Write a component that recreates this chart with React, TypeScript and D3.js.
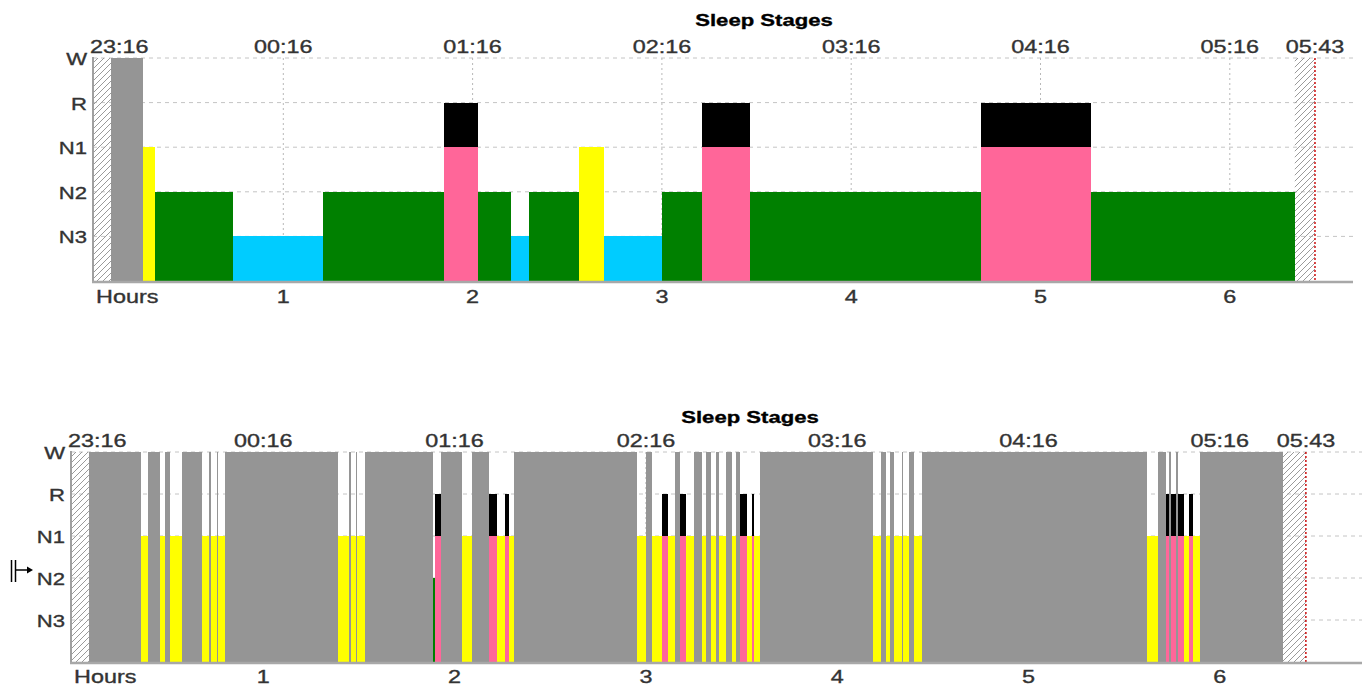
import React from 'react';
import * as d3 from 'd3';

// sleep stage hypnograms, times are minutes after 23:16
const stageNames = ['W', 'R', 'N1', 'N2', 'N3'];
const stageLevels: Record<string, number> = { W: 5, R: 4, N1: 3, N2: 2, N3: 1 };
const stageColors: Record<string, string> = {
  W: '#959595',
  R: '#ff6699',
  N1: '#ffff00',
  N2: '#008000',
  N3: '#00ccff',
};
const remTopColor = '#000000';

const timeLabels = ['23:16', '00:16', '01:16', '02:16', '03:16', '04:16', '05:16', '05:43'];
const timeLabelMinutes = [0, 60, 120, 180, 240, 300, 360, 387];
const hourLabels = ['1', '2', '3', '4', '5', '6'];
const hourMinutes = [60, 120, 180, 240, 300, 360];
const recordEnd = 387;

const topBounds = [5.4, 15.6, 19.4, 44.1, 72.7, 110.8, 121.6, 132.1, 137.8, 153.7,
  161.6, 180.0, 192.7, 208.0, 281.0, 315.9, 380.6];
const topStages = ['W', 'N1', 'N2', 'N3', 'N2', 'R', 'N2', 'N3', 'N2', 'N1',
  'N3', 'N2', 'R', 'N2', 'R', 'N2'];

const bottomBounds = [5.3, 21.6, 23.8, 27.6, 29.2, 30.7, 34.5, 40.8, 43.0, 43.6,
  45.5, 45.8, 48.0, 83.4, 86.9, 87.5, 89.1, 89.5, 91.9, 113.1,
  113.8, 115.7, 122.3, 125.4, 130.8, 133.3, 135.8, 137.0, 138.6, 177.2,
  180.0, 181.9, 185.0, 186.9, 189.1, 190.7, 192.6, 195.1, 197.6, 198.8,
  200.4, 202.0, 202.9, 205.1, 207.0, 208.2, 209.5, 211.7, 213.2, 213.9,
  215.8, 251.2, 253.7, 255.3, 256.5, 257.8, 260.3, 260.6, 262.5, 264.1,
  266.6, 337.1, 340.6, 343.1, 344.2, 344.8, 346.4, 346.8, 348.7, 350.3,
  351.5, 353.7, 379.8];
const bottomStages = ['W', 'N1', 'W', 'N1', 'W', 'N1', 'W', 'N1', 'W', 'N1',
  'W', 'N1', 'W', 'N1', 'W', 'N1', 'W', 'N1', 'W', 'N2',
  'R', 'W', 'N1', 'W', 'R', 'N1', 'R', 'N1', 'W', 'N1',
  'W', 'N1', 'R', 'N1', 'W', 'R', 'N1', 'W', 'N1', 'W',
  'N1', 'W', 'N1', 'W', 'N1', 'W', 'R', 'N1', 'R', 'N1',
  'W', 'N1', 'W', 'N1', 'W', 'N1', 'W', 'N1', 'W', 'N1',
  'W', 'N1', 'W', 'R', 'W', 'R', 'W', 'R', 'N1', 'R',
  'N1', 'W'];

const FONT = '"Liberation Sans", Arial, sans-serif';
const STRETCH = 1.3;

// text drawn a bit wider than the font, like the source picture
const T = ({ x, y, anchor = 'middle', size = 18, weight = 'normal', fill = '#333', children }: any) => (
  <text
    transform={`translate(${x},${y}) scale(${STRETCH},1)`}
    textAnchor={anchor}
    fontFamily={FONT}
    fontSize={size}
    fontWeight={weight}
    fill={fill}
    stroke={fill}
    strokeWidth={0.35}
  >
    {children}
  </text>
);

const Panel = ({ bounds, stages, x0, pxPerHour, axisEnd, yBase, yTop, titleX, titleY, timeY, hourY }: any) => {
  const xScale = d3.scaleLinear()
    .domain([0, recordEnd])
    .range([x0, x0 + pxPerHour * recordEnd / 60]);
  const yScale = d3.scaleLinear().domain([0, 5]).range([yBase, yTop]);
  const axisX = x0 - 1;
  const last = bounds[bounds.length - 1];

  return (
    <g>
      <T x={titleX} y={titleY} weight="bold" size={17} fill="#000">Sleep Stages</T>

      {/* grid */}
      {stageNames.map(s => (
        <line key={s} x1={axisX} x2={axisEnd} y1={yScale(stageLevels[s])} y2={yScale(stageLevels[s])}
          stroke="#c4c4c4" strokeDasharray="4,4" />
      ))}
      {hourMinutes.map(m => (
        <line key={m} x1={xScale(m)} x2={xScale(m)} y1={yTop} y2={yBase}
          stroke="#b8b8b8" strokeDasharray="2,3" />
      ))}

      {/* hatched unscored parts */}
      <rect x={xScale(0)} y={yTop} width={xScale(bounds[0]) - xScale(0)} height={yBase - yTop} fill="url(#hatch)" />
      <rect x={xScale(last)} y={yTop} width={xScale(recordEnd) - xScale(last)} height={yBase - yTop} fill="url(#hatch)" />

      {/* stages */}
      {stages.map((s: string, i: number) => {
        const x = xScale(bounds[i]);
        const w = xScale(bounds[i + 1]) - x;
        if (s === 'R') {
          return (
            <g key={i}>
              <rect x={x} width={w} y={yScale(3)} height={yBase - yScale(3)} fill={stageColors.R} shapeRendering="crispEdges" />
              <rect x={x} width={w} y={yScale(4)} height={yScale(3) - yScale(4)} fill={remTopColor} shapeRendering="crispEdges" />
            </g>
          );
        }
        const y = yScale(stageLevels[s]);
        return <rect key={i} x={x} width={w} y={y} height={yBase - y} fill={stageColors[s]} shapeRendering="crispEdges" />;
      })}

      <line x1={xScale(recordEnd)} x2={xScale(recordEnd)} y1={yTop} y2={yBase}
        stroke="#cc1111" strokeWidth={1.5} strokeDasharray="2,2" />

      {/* axes */}
      <line x1={axisX} x2={axisX} y1={yTop - 1} y2={yBase + 1} stroke="#a0a0a0" strokeWidth={2} />
      <line x1={axisX - 1} x2={axisEnd} y1={yBase + 1} y2={yBase + 1} stroke="#a8a8a8" strokeWidth={2.5} />

      {stageNames.map(s => (
        <T key={s} x={axisX - 6} y={yScale(stageLevels[s]) + 7} anchor="end" size={17}>{s}</T>
      ))}
      {timeLabels.map((t, i) => (
        <T key={t} x={i === 0 ? x0 - 4 : xScale(timeLabelMinutes[i])} y={timeY} anchor={i === 0 ? 'start' : 'middle'}>{t}</T>
      ))}
      <T x={x0 + 2} y={hourY} anchor="start">Hours</T>
      {hourLabels.map((h, i) => (
        <T key={h} x={xScale(hourMinutes[i])} y={hourY}>{h}</T>
      ))}
    </g>
  );
};

export default function App() {
  return (
    <svg width={1366} height={685} style={{ position: 'absolute', left: 0, top: 0, background: '#fff' }}>
      <defs>
        <pattern id="hatch" width={6} height={6} patternUnits="userSpaceOnUse">
          <path d="M-1,1 l2,-2 M0,6 l6,-6 M5,7 l2,-2" stroke="#9a9a9a" strokeWidth={1} />
        </pattern>
      </defs>
      <Panel bounds={topBounds} stages={topStages} x0={94} pxPerHour={189.3} axisEnd={1353}
        yBase={281} yTop={58} titleX={764} titleY={26} timeY={53} hourY={303} />
      <Panel bounds={bottomBounds} stages={bottomStages} x0={72} pxPerHour={191.3} axisEnd={1362}
        yBase={662} yTop={452} titleX={750} titleY={423} timeY={447} hourY={683} />
      {/* marker left of the N2 row */}
      <g stroke="#000" strokeWidth={1.5}>
        <line x1={11.5} x2={11.5} y1={560} y2={582} />
        <line x1={15.5} x2={15.5} y1={560} y2={582} />
        <line x1={15.5} x2={28} y1={570} y2={570} />
      </g>
      <path d="M27,566.5 L33,570 L27,573.5 Z" fill="#000" />
    </svg>
  );
}
